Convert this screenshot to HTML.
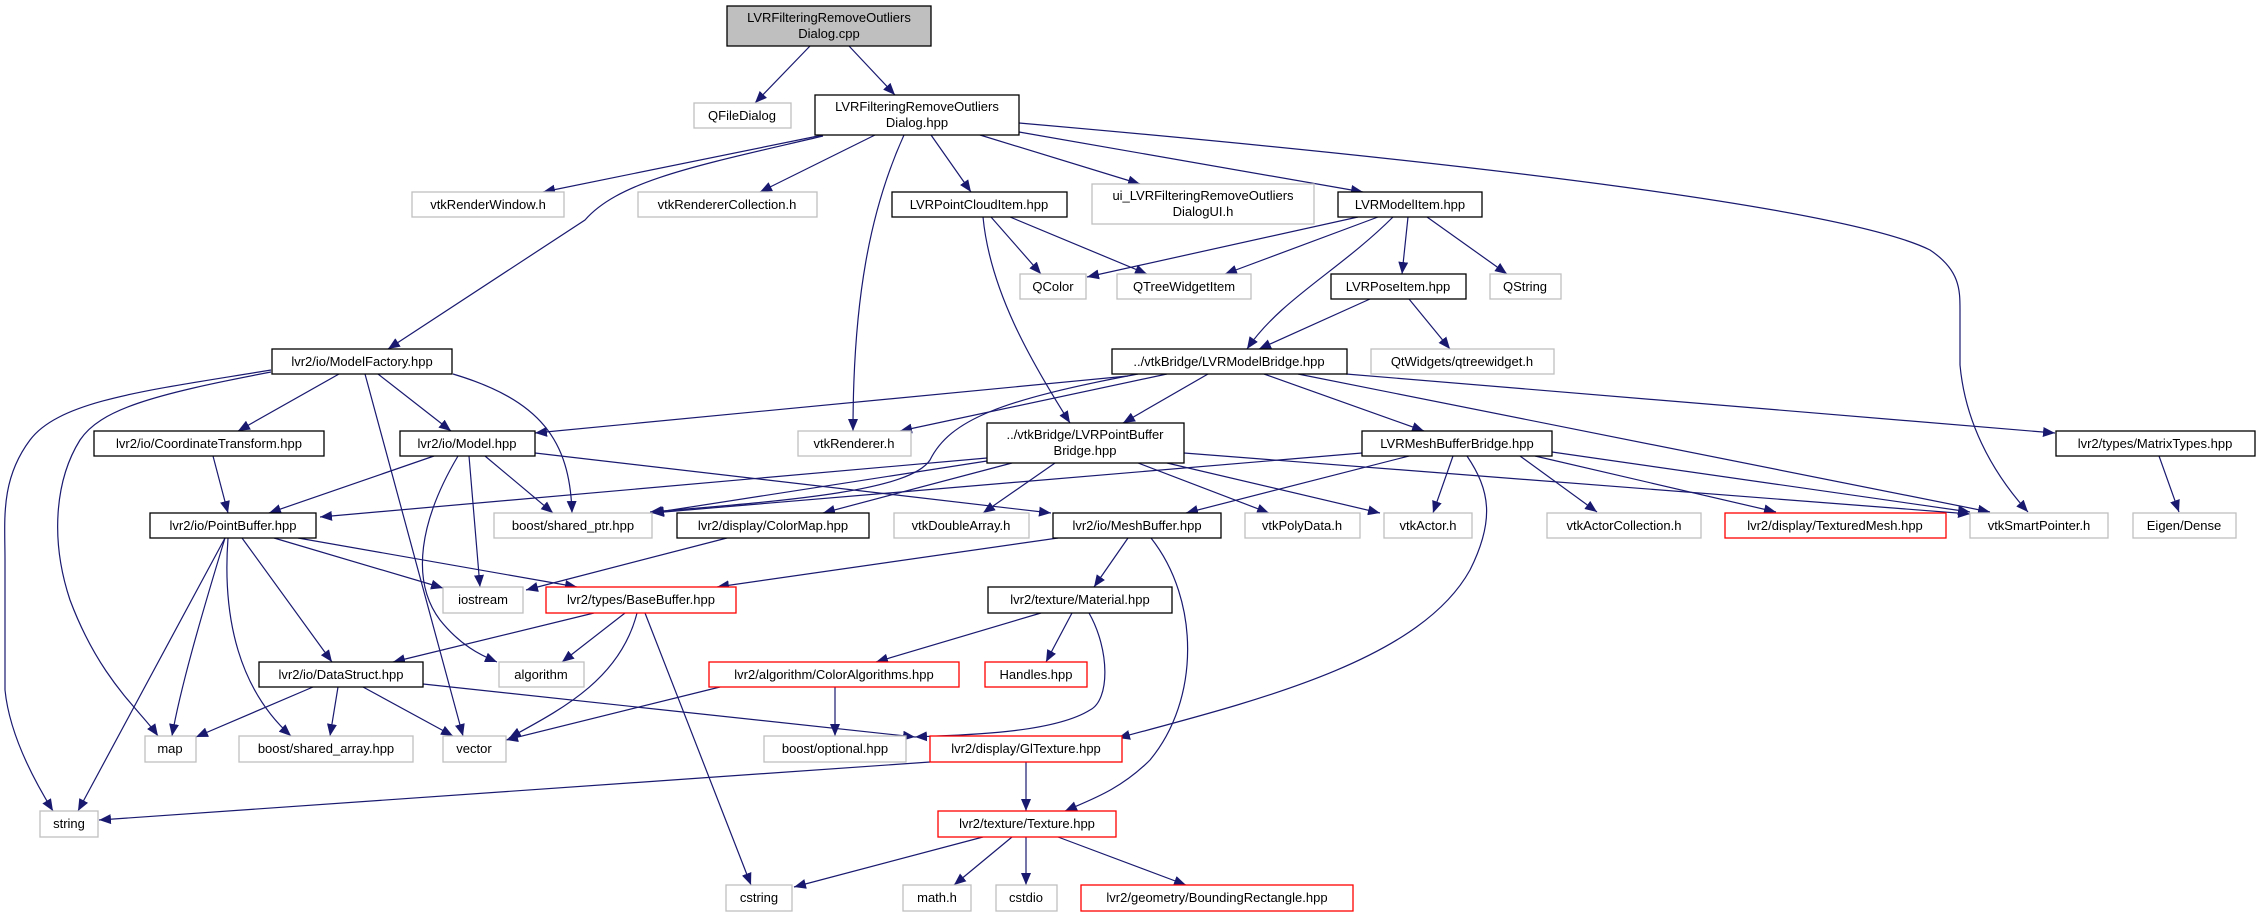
<!DOCTYPE html>
<html><head><meta charset="utf-8"><style>
html,body{margin:0;padding:0;background:#fff;}
svg{display:block;}
text{font-family:"Liberation Sans",sans-serif;font-size:13px;fill:#000;text-anchor:middle;}
.b{fill:#fff;stroke:#000;stroke-width:1.3;}
.g{fill:#fff;stroke:#bfbfbf;stroke-width:1.3;}
.r{fill:#fff;stroke:#ff0000;stroke-width:1.3;}
.e{fill:none;stroke:#191970;stroke-width:1.2;marker-end:url(#a);}
</style></head><body>
<svg width="2261" height="917" viewBox="0 0 2261 917" xmlns="http://www.w3.org/2000/svg">
<defs><marker id="a" markerUnits="userSpaceOnUse" markerWidth="12" markerHeight="10" viewBox="0 0 12 10" refX="12" refY="5" orient="auto"><path d="M0,0 L12,5 L0,10 z" fill="#191970"/></marker></defs>

<!-- edges -->
<path class="e" d="M810,46 L755,103"/>
<path class="e" d="M849,46 L895,95"/>
<path class="e" d="M823,135 L543,192"/>
<path class="e" d="M823,136 C700,165 620,180 585,220 L388,349"/>
<path class="e" d="M875,135 L760,192"/>
<path class="e" d="M904,135 C870,210 853,300 853,431"/>
<path class="e" d="M931,135 L971,192"/>
<path class="e" d="M980,135 L1140,184"/>
<path class="e" d="M1019,132 L1363,192"/>
<path class="e" d="M1019,123 C1500,165 1850,210 1930,250 C1960,270 1960,290 1960,310 L1960,365 C1965,420 1990,470 2028,512"/>
<path class="e" d="M991,217 L1041,274"/>
<path class="e" d="M1010,217 L1147,274"/>
<path class="e" d="M983,217 C990,290 1030,360 1070,423"/>
<path class="e" d="M1358,217 L1087,277"/>
<path class="e" d="M1378,217 L1225,274"/>
<path class="e" d="M1393,217 C1340,270 1280,300 1247,349"/>
<path class="e" d="M1408,217 L1402,274"/>
<path class="e" d="M1427,217 L1507,274"/>
<path class="e" d="M1370,299 L1259,349"/>
<path class="e" d="M1409,299 L1450,349"/>
<path class="e" d="M1128,376 L535,433"/>
<path class="e" d="M1167,374 L900,431"/>
<path class="e" d="M1138,374 C1000,400 950,420 930,460 C910,490 800,500 650,512"/>
<path class="e" d="M1208,374 L1123,423"/>
<path class="e" d="M1264,374 L1424,431"/>
<path class="e" d="M1346,374 L2055,433"/>
<path class="e" d="M1298,374 L1990,512"/>
<path class="e" d="M339,374 L238,431"/>
<path class="e" d="M378,374 L451,431"/>
<path class="e" d="M365,374 L463,736"/>
<path class="e" d="M453,374 C540,400 570,440 572,513"/>
<path class="e" d="M271,370 C150,390 60,400 30,440 C0,480 5,520 5,560 L5,690 C10,740 40,790 53,811"/>
<path class="e" d="M271,372 C150,395 100,410 80,440 C55,480 50,540 70,600 C100,680 140,710 158,736"/>
<path class="e" d="M213,456 L228,513"/>
<path class="e" d="M434,456 L269,513"/>
<path class="e" d="M458,456 C420,520 410,580 440,620 C460,645 480,655 497,662"/>
<path class="e" d="M469,456 L480,587"/>
<path class="e" d="M485,456 L553,513"/>
<path class="e" d="M535,453 L1051,513"/>
<path class="e" d="M987,458 L320,517"/>
<path class="e" d="M987,461 L652,513"/>
<path class="e" d="M1012,463 L823,513"/>
<path class="e" d="M1055,463 L983,513"/>
<path class="e" d="M1138,463 L1269,513"/>
<path class="e" d="M1167,463 L1380,513"/>
<path class="e" d="M1184,453 L1970,514"/>
<path class="e" d="M1409,456 L1186,513"/>
<path class="e" d="M1362,453 L652,513"/>
<path class="e" d="M1453,456 L1433,513"/>
<path class="e" d="M1467,456 C1490,490 1495,520 1470,570 C1420,660 1260,700 1118,738"/>
<path class="e" d="M1520,456 L1597,512"/>
<path class="e" d="M1535,456 L1776,512"/>
<path class="e" d="M1552,452 L1970,512"/>
<path class="e" d="M2159,456 L2179,512"/>
<path class="e" d="M274,538 L443,588"/>
<path class="e" d="M298,538 L577,587"/>
<path class="e" d="M242,538 L332,662"/>
<path class="e" d="M225,538 C200,620 180,690 172,736"/>
<path class="e" d="M225,538 L78,811"/>
<path class="e" d="M228,538 C222,620 240,690 291,736"/>
<path class="e" d="M727,538 L526,590"/>
<path class="e" d="M1058,538 L717,587"/>
<path class="e" d="M1128,538 L1094,587"/>
<path class="e" d="M1151,538 C1200,600 1200,700 1150,760 C1120,790 1090,800 1065,811"/>
<path class="e" d="M594,613 L393,662"/>
<path class="e" d="M625,613 L562,662"/>
<path class="e" d="M637,613 C620,680 560,710 509,738"/>
<path class="e" d="M645,613 L751,885"/>
<path class="e" d="M1041,613 L876,662"/>
<path class="e" d="M1072,613 L1046,662"/>
<path class="e" d="M1089,613 C1110,650 1110,700 1090,710 C1050,735 950,735 915,737"/>
<path class="e" d="M720,687 L506,740"/>
<path class="e" d="M835,687 L835,736"/>
<path class="e" d="M313,687 L196,737"/>
<path class="e" d="M338,687 L330,736"/>
<path class="e" d="M363,687 L453,736"/>
<path class="e" d="M423,684 L915,737"/>
<path class="e" d="M930,762 L99,820"/>
<path class="e" d="M1026,762 L1026,811"/>
<path class="e" d="M983,837 L794,887"/>
<path class="e" d="M1012,837 L954,885"/>
<path class="e" d="M1026,837 L1026,885"/>
<path class="e" d="M1058,837 L1186,885"/>

<!-- nodes -->
<rect x="727" y="6" width="204" height="40" fill="#bfbfbf" stroke="#000" stroke-width="1.3"/>
<text x="829" y="22">LVRFilteringRemoveOutliers</text><text x="829" y="38">Dialog.cpp</text>
<rect class="g" x="694" y="103" width="97" height="25"/><text x="742" y="120">QFileDialog</text>
<rect class="b" x="815" y="95" width="204" height="40"/>
<text x="917" y="111">LVRFilteringRemoveOutliers</text><text x="917" y="127">Dialog.hpp</text>
<rect class="g" x="412" y="192" width="152" height="25"/><text x="488" y="209">vtkRenderWindow.h</text>
<rect class="g" x="638" y="192" width="179" height="25"/><text x="727" y="209">vtkRendererCollection.h</text>
<rect class="b" x="892" y="192" width="175" height="25"/><text x="979" y="209">LVRPointCloudItem.hpp</text>
<rect class="g" x="1092" y="184" width="222" height="40"/>
<text x="1203" y="200">ui_LVRFilteringRemoveOutliers</text><text x="1203" y="216">DialogUI.h</text>
<rect class="b" x="1338" y="192" width="144" height="25"/><text x="1410" y="209">LVRModelItem.hpp</text>
<rect class="g" x="1020" y="274" width="66" height="25"/><text x="1053" y="291">QColor</text>
<rect class="g" x="1117" y="274" width="134" height="25"/><text x="1184" y="291">QTreeWidgetItem</text>
<rect class="b" x="1331" y="274" width="135" height="25"/><text x="1398" y="291">LVRPoseItem.hpp</text>
<rect class="g" x="1490" y="274" width="71" height="25"/><text x="1525" y="291">QString</text>
<rect class="b" x="1112" y="349" width="235" height="25"/><text x="1229" y="366">../vtkBridge/LVRModelBridge.hpp</text>
<rect class="g" x="1371" y="349" width="183" height="25"/><text x="1462" y="366">QtWidgets/qtreewidget.h</text>
<rect class="b" x="272" y="349" width="180" height="25"/><text x="362" y="366">lvr2/io/ModelFactory.hpp</text>
<rect class="b" x="94" y="431" width="230" height="25"/><text x="209" y="448">lvr2/io/CoordinateTransform.hpp</text>
<rect class="b" x="400" y="431" width="135" height="25"/><text x="467" y="448">lvr2/io/Model.hpp</text>
<rect class="g" x="798" y="431" width="113" height="25"/><text x="854" y="448">vtkRenderer.h</text>
<rect class="b" x="987" y="423" width="197" height="40"/>
<text x="1085" y="439">../vtkBridge/LVRPointBuffer</text><text x="1085" y="455">Bridge.hpp</text>
<rect class="b" x="1362" y="431" width="190" height="25"/><text x="1457" y="448">LVRMeshBufferBridge.hpp</text>
<rect class="b" x="2056" y="431" width="199" height="25"/><text x="2155" y="448">lvr2/types/MatrixTypes.hpp</text>
<rect class="b" x="150" y="513" width="166" height="25"/><text x="233" y="530">lvr2/io/PointBuffer.hpp</text>
<rect class="g" x="494" y="513" width="158" height="25"/><text x="573" y="530">boost/shared_ptr.hpp</text>
<rect class="b" x="677" y="513" width="192" height="25"/><text x="773" y="530">lvr2/display/ColorMap.hpp</text>
<rect class="g" x="894" y="513" width="135" height="25"/><text x="961" y="530">vtkDoubleArray.h</text>
<rect class="b" x="1053" y="513" width="168" height="25"/><text x="1137" y="530">lvr2/io/MeshBuffer.hpp</text>
<rect class="g" x="1245" y="513" width="115" height="25"/><text x="1302" y="530">vtkPolyData.h</text>
<rect class="g" x="1384" y="513" width="88" height="25"/><text x="1428" y="530">vtkActor.h</text>
<rect class="g" x="1547" y="513" width="154" height="25"/><text x="1624" y="530">vtkActorCollection.h</text>
<rect class="r" x="1725" y="513" width="221" height="25"/><text x="1835" y="530">lvr2/display/TexturedMesh.hpp</text>
<rect class="g" x="1970" y="513" width="138" height="25"/><text x="2039" y="530">vtkSmartPointer.h</text>
<rect class="g" x="2133" y="513" width="103" height="25"/><text x="2184" y="530">Eigen/Dense</text>
<rect class="g" x="443" y="587" width="80" height="26"/><text x="483" y="604">iostream</text>
<rect class="r" x="546" y="587" width="190" height="26"/><text x="641" y="604">lvr2/types/BaseBuffer.hpp</text>
<rect class="b" x="988" y="587" width="184" height="26"/><text x="1080" y="604">lvr2/texture/Material.hpp</text>
<rect class="b" x="259" y="662" width="164" height="25"/><text x="341" y="679">lvr2/io/DataStruct.hpp</text>
<rect class="g" x="499" y="662" width="85" height="25"/><text x="541" y="679">algorithm</text>
<rect class="r" x="709" y="662" width="250" height="25"/><text x="834" y="679">lvr2/algorithm/ColorAlgorithms.hpp</text>
<rect class="r" x="985" y="662" width="102" height="25"/><text x="1036" y="679">Handles.hpp</text>
<rect class="g" x="145" y="736" width="51" height="26"/><text x="170" y="753">map</text>
<rect class="g" x="239" y="736" width="174" height="26"/><text x="326" y="753">boost/shared_array.hpp</text>
<rect class="g" x="443" y="736" width="63" height="26"/><text x="474" y="753">vector</text>
<rect class="g" x="764" y="736" width="142" height="26"/><text x="835" y="753">boost/optional.hpp</text>
<rect class="r" x="930" y="736" width="192" height="26"/><text x="1026" y="753">lvr2/display/GlTexture.hpp</text>
<rect class="g" x="40" y="811" width="58" height="26"/><text x="69" y="828">string</text>
<rect class="r" x="938" y="811" width="178" height="26"/><text x="1027" y="828">lvr2/texture/Texture.hpp</text>
<rect class="g" x="726" y="885" width="66" height="26"/><text x="759" y="902">cstring</text>
<rect class="g" x="903" y="885" width="68" height="26"/><text x="937" y="902">math.h</text>
<rect class="g" x="996" y="885" width="61" height="26"/><text x="1026" y="902">cstdio</text>
<rect class="r" x="1081" y="885" width="272" height="26"/><text x="1217" y="902">lvr2/geometry/BoundingRectangle.hpp</text>
</svg>
</body></html>
